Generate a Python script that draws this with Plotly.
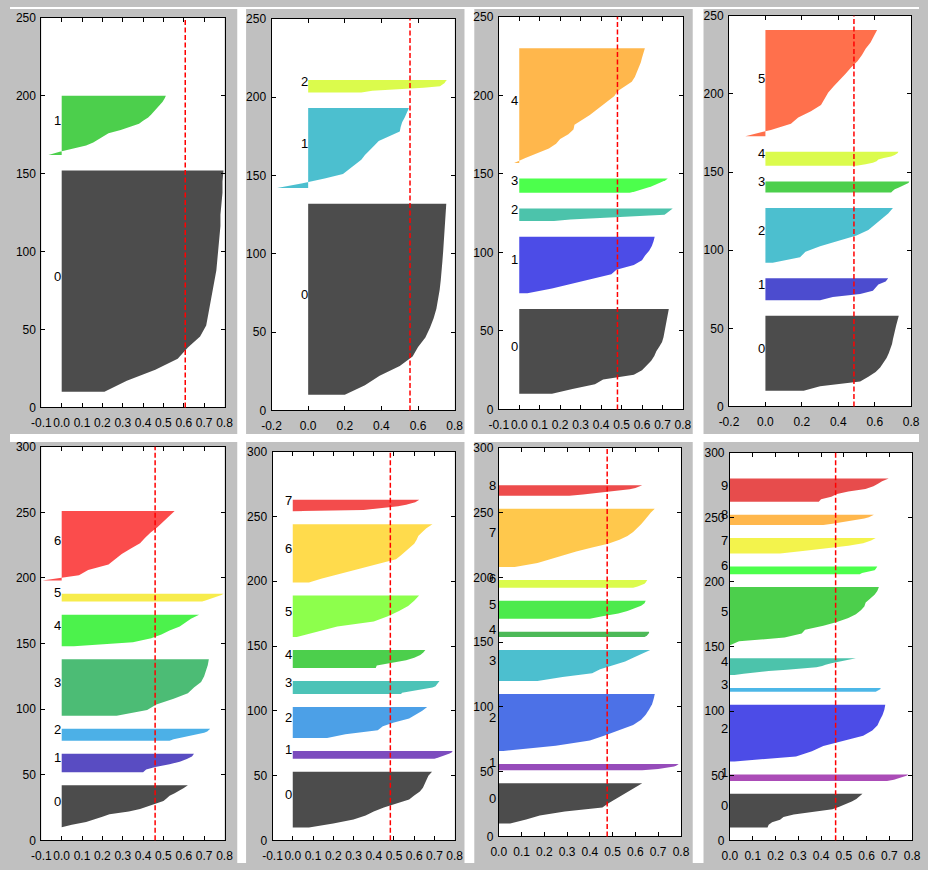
import plotly.graph_objects as go

# ---------------- data (silhouette profiles) ----------------
# each cluster: sorted silhouette values sampled at evenly spaced ranks, bottom -> top
k2_sizes = [142, 38]
k2_c0 = [0.21, 0.32, 0.46, 0.57, 0.62, 0.68, 0.71, 0.72, 0.73, 0.74, 0.75, 0.76, 0.765, 0.77, 0.775, 0.78, 0.78, 0.785, 0.79, 0.79, 0.795]
k2_c1 = [-0.065, -0.01, 0.06, 0.12, 0.155, 0.18, 0.20, 0.23, 0.29, 0.34, 0.38, 0.40, 0.425, 0.44, 0.455, 0.47, 0.485, 0.495, 0.505, 0.512]
k2_avg = 0.607

k3_sizes = [122, 51, 8]
k3_c0 = [0.20, 0.31, 0.39, 0.50, 0.57, 0.60, 0.64, 0.665, 0.685, 0.70, 0.71, 0.718, 0.724, 0.73, 0.733, 0.737, 0.741, 0.744, 0.748, 0.751, 0.754]
k3_c1 = [-0.17, -0.03, 0.09, 0.19, 0.225, 0.26, 0.29, 0.31, 0.333, 0.36, 0.385, 0.44, 0.50, 0.505, 0.513, 0.527, 0.54, 0.55]
k3_c2 = [0.29, 0.35, 0.50, 0.63, 0.72, 0.735, 0.745, 0.75, 0.757]
k3_avg = 0.556

k5_sizes = [54, 36, 8, 9, 73]
k5_c0 = [0.16, 0.26, 0.37, 0.41, 0.56, 0.60, 0.625, 0.645, 0.66, 0.67, 0.685, 0.698, 0.705, 0.709, 0.713, 0.717, 0.721, 0.726, 0.731]
k5_c1 = [0.04, 0.16, 0.26, 0.35, 0.45, 0.475, 0.56, 0.60, 0.615, 0.635, 0.648, 0.656, 0.662]
k5_c2 = [0.17, 0.25, 0.40, 0.60, 0.71, 0.72, 0.73, 0.745, 0.75]
k5_c3 = [0.54, 0.57, 0.60, 0.62, 0.645, 0.665, 0.685, 0.70, 0.715, 0.726]
k5_c4 = [-0.025, 0.03, 0.09, 0.145, 0.18, 0.20, 0.24, 0.265, 0.27, 0.31, 0.345, 0.375, 0.405, 0.44, 0.465, 0.48, 0.515, 0.55, 0.565, 0.575, 0.585, 0.594, 0.60, 0.607, 0.614]
k5_avg = 0.48

k6_sizes = [48, 14, 35, 7, 9, 68]
k6_c0 = [0.21, 0.30, 0.52, 0.565, 0.605, 0.63, 0.65, 0.665, 0.677, 0.688, 0.695, 0.70, 0.705, 0.712, 0.718, 0.725, 0.732]
k6_c1 = [0.30, 0.37, 0.52, 0.59, 0.605, 0.62, 0.66, 0.674]
k6_c2 = [0.04, 0.19, 0.22, 0.30, 0.40, 0.50, 0.565, 0.60, 0.635, 0.674, 0.70]
k6_c3 = [0.69, 0.70, 0.71, 0.73, 0.75, 0.77, 0.785, 0.79]
k6_c4 = [0.50, 0.55, 0.59, 0.61, 0.62, 0.65, 0.69, 0.71, 0.725, 0.73]
k6_c5 = [-0.11, 0.03, 0.14, 0.18, 0.25, 0.305, 0.325, 0.345, 0.375, 0.41, 0.44, 0.47, 0.505, 0.53, 0.55, 0.577, 0.593, 0.613]
k6_avg = 0.486

k7_sizes = [32, 14, 9, 43, 24, 6, 53]
k7_c0 = [0.0, 0.05, 0.12, 0.165, 0.20, 0.235, 0.33, 0.385, 0.42, 0.455, 0.50, 0.515, 0.53, 0.555, 0.58, 0.60, 0.62]
k7_c1 = [0.40, 0.415, 0.46, 0.53, 0.58, 0.615, 0.64, 0.65]
k7_c2 = [0.53, 0.55, 0.58, 0.61, 0.65, 0.68, 0.70, 0.715, 0.725, 0.73]
k7_c3 = [0.27, 0.42, 0.465, 0.55, 0.62, 0.65, 0.685, 0.70, 0.71, 0.718, 0.723]
k7_c4 = [0.06, 0.35, 0.44, 0.49, 0.53, 0.58, 0.605, 0.635, 0.675]
k7_c5 = [0.69, 0.71, 0.73, 0.75, 0.77, 0.785, 0.795]
k7_c6 = [-0.095, 0.085, 0.13, 0.23, 0.26, 0.295, 0.34, 0.385, 0.41, 0.437, 0.47, 0.50, 0.525, 0.555]
k7_avg = 0.459

k8_sizes = [43, 6, 24, 10, 14, 32, 45, 9]
k8_c0 = [0.08, 0.20, 0.30, 0.36, 0.40, 0.45, 0.51, 0.575, 0.60, 0.628, 0.643, 0.652, 0.66, 0.67, 0.688]
k8_c1 = [0.70, 0.72, 0.74, 0.76, 0.775, 0.785, 0.79]
k8_c2 = [0.17, 0.26, 0.42, 0.445, 0.50, 0.575, 0.61, 0.64, 0.664]
k8_c3 = [0.535, 0.54, 0.58, 0.62, 0.655, 0.69, 0.705, 0.71, 0.715, 0.72, 0.725]
k8_c4 = [0.41, 0.415, 0.48, 0.56, 0.60, 0.63, 0.645, 0.655]
k8_c5 = [0.02, 0.12, 0.22, 0.40, 0.47, 0.525, 0.57, 0.60, 0.624]
k8_c6 = [0.08, 0.14, 0.215, 0.29, 0.365, 0.445, 0.51, 0.535, 0.555, 0.58, 0.60, 0.612, 0.62, 0.64, 0.66, 0.69]
k8_c7 = [-0.03, 0.35, 0.42, 0.48, 0.52, 0.56, 0.59, 0.605, 0.615, 0.625]
k8_avg = 0.482

k9_sizes = [31, 5, 44, 24, 4, 14, 6, 45, 8]
k9_c0 = [0.05, 0.12, 0.18, 0.29, 0.455, 0.48, 0.51, 0.545, 0.575, 0.60, 0.63]
k9_c1 = [0.63, 0.70, 0.745, 0.77, 0.782, 0.79]
k9_c2 = [0.02, 0.25, 0.40, 0.465, 0.53, 0.59, 0.625, 0.645, 0.66, 0.673, 0.68, 0.685]
k9_c3 = [0.17, 0.28, 0.41, 0.445, 0.505, 0.555, 0.59, 0.63, 0.665]
k9_c4 = [0.64, 0.65, 0.655, 0.66, 0.66]
k9_c5 = [0.40, 0.455, 0.525, 0.565, 0.60, 0.625, 0.64, 0.645]
k9_c6 = [0.59, 0.61, 0.63, 0.64, 0.645, 0.65, 0.652]
k9_c7 = [0.07, 0.17, 0.225, 0.285, 0.34, 0.41, 0.48, 0.53, 0.565, 0.59, 0.61, 0.625, 0.64, 0.653, 0.668, 0.685]
k9_c8 = [0.31, 0.37, 0.42, 0.47, 0.54, 0.575, 0.60, 0.62, 0.63]
k9_avg = 0.476

k10_sizes = [26, 5, 44, 3, 13, 45, 6, 12, 8, 18]
k10_c0 = [0.165, 0.17, 0.185, 0.22, 0.235, 0.28, 0.36, 0.45, 0.48, 0.51, 0.535, 0.555, 0.57, 0.582]
k10_c1 = [0.69, 0.72, 0.74, 0.76, 0.775, 0.783]
k10_c2 = [0.02, 0.29, 0.36, 0.41, 0.50, 0.585, 0.625, 0.648, 0.658, 0.67, 0.678, 0.682]
k10_c3 = [0.64, 0.65, 0.66, 0.662]
k10_c4 = [0.02, 0.06, 0.11, 0.17, 0.25, 0.32, 0.38, 0.405, 0.42, 0.445, 0.475, 0.50, 0.525, 0.553]
k10_c5 = [0.0, 0.04, 0.24, 0.315, 0.33, 0.41, 0.47, 0.52, 0.553, 0.575, 0.59, 0.596, 0.615, 0.635, 0.647, 0.654]
k10_c6 = [0.57, 0.58, 0.61, 0.635, 0.64, 0.645, 0.647]
k10_c7 = [0.22, 0.32, 0.42, 0.52, 0.585, 0.62, 0.64]
k10_c8 = [0.41, 0.45, 0.49, 0.525, 0.56, 0.59, 0.61, 0.625, 0.632]
k10_c9 = [0.39, 0.40, 0.445, 0.47, 0.52, 0.595, 0.63, 0.65, 0.668, 0.697]
k10_avg = 0.464

panels = [
    dict(sizes=k2_sizes, vals=[k2_c0, k2_c1], avg=k2_avg),
    dict(sizes=k3_sizes, vals=[k3_c0, k3_c1, k3_c2], avg=k3_avg),
    dict(sizes=k5_sizes, vals=[k5_c0, k5_c1, k5_c2, k5_c3, k5_c4], avg=k5_avg),
    dict(sizes=k6_sizes, vals=[k6_c0, k6_c1, k6_c2, k6_c3, k6_c4, k6_c5], avg=k6_avg),
    dict(sizes=k7_sizes, vals=[k7_c0, k7_c1, k7_c2, k7_c3, k7_c4, k7_c5, k7_c6], avg=k7_avg),
    dict(sizes=k8_sizes, vals=[k8_c0, k8_c1, k8_c2, k8_c3, k8_c4, k8_c5, k8_c6, k8_c7], avg=k8_avg),
    dict(sizes=k9_sizes, vals=[k9_c0, k9_c1, k9_c2, k9_c3, k9_c4, k9_c5, k9_c6, k9_c7, k9_c8], avg=k9_avg),
    dict(sizes=k10_sizes, vals=[k10_c0, k10_c1, k10_c2, k10_c3, k10_c4, k10_c5, k10_c6, k10_c7, k10_c8, k10_c9], avg=k10_avg),
]

# ---------------- layout / style ----------------
W, H = 928, 870
x_ranges = [(-0.1, 0.8), (-0.2, 0.8), (-0.1, 0.8), (-0.2, 0.8), (-0.1, 0.8), (-0.1, 0.8), (0.0, 0.8), (0.0, 0.8)]
x_steps = [0.1, 0.2, 0.1, 0.2, 0.1, 0.1, 0.1, 0.1]
y_tops = [250, 250, 250, 250, 300, 300, 300, 300]
# plot-area boxes in pixels: left, right, top, bottom
boxes = [(32, 219, 11, 407), (267, 454, 12, 410), (499, 687, 10, 409), (734, 920, 9, 406),
         (32, 219, 447, 847), (268, 454, 452, 847), (499, 685, 448, 843), (735, 921, 453, 847)]
GAP = 10
LABEL_X = -0.05
FONT = "Liberation Sans, Arial, sans-serif"

# nipy_spectral colormap control points
_pos = [i * 0.05 for i in range(21)]
_r = [0, 0.4667, 0.5333, 0, 0, 0, 0, 0, 0, 0, 0, 0, 0, 0.7333, 0.9333, 1, 1, 1, 0.8667, 0.8, 0.8]
_g = [0, 0, 0, 0, 0, 0.4667, 0.6, 0.6667, 0.6667, 0.6, 0.7333, 0.8667, 1, 1, 0.9333, 0.8, 0.6, 0, 0, 0, 0.8]
_b = [0, 0.5333, 0.6, 0.6667, 0.8667, 0.8667, 0.8667, 0.6667, 0.5333, 0, 0, 0, 0, 0, 0, 0, 0, 0, 0, 0, 0.8]


def nipy(v, alpha=0.7):
    i = min(int(v / 0.05), 19)
    t = (v - _pos[i]) / 0.05
    c = [(a[i] + (a[i + 1] - a[i]) * t) * 255 for a in (_r, _g, _b)]
    return "rgba(%d,%d,%d,%.2f)" % (round(c[0]), round(c[1]), round(c[2]), alpha)


def fmt(v):
    s = "%.1f" % abs(v)
    return "-" + s if v < -1e-9 else s


fig = go.Figure()
shapes = []
annotations = []
layout = {}

for p, panel in enumerate(panels):
    n = p + 1
    xa = "x" if n == 1 else "x%d" % n
    ya = "y" if n == 1 else "y%d" % n
    x0, x1 = x_ranges[p]
    k = len(panel["sizes"])
    y_lower = 10
    for i, (size, vals) in enumerate(zip(panel["sizes"], panel["vals"])):
        m = len(vals)
        ys = [y_lower + size * j / (m - 1) for j in range(m)]
        fig.add_trace(go.Scatter(
            x=[0] + list(vals) + [0], y=[y_lower] + ys + [y_lower + size],
            fill="toself", fillcolor=nipy(i / k), mode="lines",
            line=dict(width=0, color=nipy(i / k)), xaxis=xa, yaxis=ya,
            hoverinfo="skip", showlegend=False))
        # label at x = -0.05 (data), expressed as a fraction of the x domain so it may sit outside
        annotations.append(dict(x=(LABEL_X - x0) / (x1 - x0), y=y_lower + 0.5 * size,
                                xref=xa + " domain", yref=ya,
                                text=str(i), showarrow=False, xanchor="left", yanchor="middle",
                                yshift=5, font=dict(family=FONT, size=13, color="black")))
        y_lower = y_lower + size + GAP

    shapes.append(dict(type="line", xref=xa, yref=ya + " domain", x0=panel["avg"], x1=panel["avg"],
                       y0=0, y1=1, line=dict(color="red", width=1.5, dash="5px,2.5px")))

    l, r, t, b = boxes[p]
    st = x_steps[p]
    nt = int(round((x1 - x0) / st))
    xt = [round(x0 + st * j, 2) for j in range(nt + 1)]
    yt = list(range(0, y_tops[p] + 1, 50))
    common = dict(ticks="inside", ticklen=4, tickwidth=1, tickcolor="black", showline=True,
                  linecolor="black", linewidth=1, mirror="ticks", showgrid=False, zeroline=False,
                  tickfont=dict(family=FONT, size=12, color="black"), fixedrange=True)
    layout["xaxis" if n == 1 else "xaxis%d" % n] = dict(
        domain=[l / W, r / W], range=[x0, x1], anchor=ya, tickmode="array", tickvals=xt,
        ticktext=[fmt(v) for v in xt], tickangle=0, ticklabelstandoff=4, **common)
    layout["yaxis" if n == 1 else "yaxis%d" % n] = dict(
        domain=[1 - b / H, 1 - t / H], range=[0, y_tops[p]], anchor=xa, tickmode="array",
        tickvals=yt, ticklabelstandoff=2, **common)

# white gaps between the grey panel backgrounds
gaps = [(0, W, 0, 2), (0, W, 434, 442), (232, 241, 0, H), (464, 474, 0, H), (697, 708, 0, H)]
for gx0, gx1, gy0, gy1 in gaps:
    shapes.append(dict(type="rect", xref="paper", yref="paper", x0=gx0 / W, x1=gx1 / W,
                       y0=1 - gy1 / H, y1=1 - gy0 / H, fillcolor="white", line=dict(width=0),
                       layer="below"))

# figure size comes from the (absolutely positioned) div, so the page's body margin does not shift it
fig.update_layout(autosize=True, margin=dict(l=0, r=0, t=0, b=0),
                  paper_bgcolor="#c0c0c0", plot_bgcolor="white", showlegend=False,
                  shapes=shapes, annotations=annotations, **layout)

fig.write_html("out.html",
               config={"displayModeBar": False},
               default_width="%dpx;position:absolute;left:0;top:0" % W,
               default_height="%dpx" % H)
